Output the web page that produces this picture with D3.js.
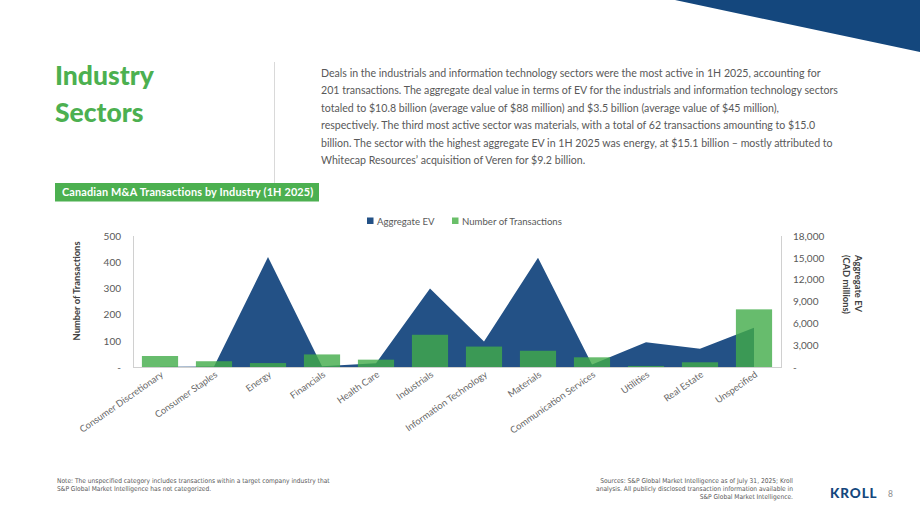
<!DOCTYPE html>
<html>
<head>
<meta charset="utf-8">
<script src="https://cdn.jsdelivr.net/npm/d3@7/dist/d3.min.js"></script>
<style>
  html, body { margin: 0; padding: 0; background: #fff; }
  svg { display: block; font-family: Lato, "Open Sans", sans-serif; }
</style>
</head>
<body>
<svg id="page" width="920" height="518"></svg>
<script>
// ---- data ----
const categories = [
  'Consumer Discretionary', 'Consumer Staples', 'Energy', 'Financials',
  'Health Care', 'Industrials', 'Information Technology', 'Materials',
  'Communication Services', 'Utilities', 'Real Estate', 'Unspecified'
];
const aggregateEV  = [50, 80, 15100, 100, 500, 10800, 3500, 15000, 350, 3400, 2500, 5400]; // CAD millions
const transactions = [42, 22, 15, 48, 28, 123, 78, 62, 37, 4, 18, 220];
const leftTicks  = [0, 100, 200, 300, 400, 500];
const rightTicks = [0, 3000, 6000, 9000, 12000, 15000, 18000];

const paragraph = [
  'Deals in the industrials and information technology sectors were the most active in 1H 2025, accounting for',
  '201 transactions. The aggregate deal value in terms of EV for the industrials and information technology sectors',
  'totaled to $10.8 billion (average value of $88 million) and $3.5 billion (average value of $45 million),',
  'respectively. The third most active sector was materials, with a total of 62 transactions amounting to $15.0',
  'billion. The sector with the highest aggregate EV in 1H 2025 was energy, at $15.1 billion \u2013 mostly attributed to',
  'Whitecap Resources\u2019 acquisition of Veren for $9.2 billion.'
];
const noteLines = [
  'Note: The unspecified category includes transactions within a target company industry that',
  'S&P Global Market Intelligence has not categorized.'
];
const sourceLines = [
  'Sources: S&P Global Market Intelligence as of July 31, 2025; Kroll',
  'analysis. All publicly disclosed transaction information available in',
  'S&P Global Market Intelligence.'
];

const NAVY   = '#235186';
const DKNAVY = '#14477d';
const GREEN  = '#41ab49';
const LGREEN = '#4cb050';
const GREY   = '#595959';

const svg = d3.select('#page');

// corner triangle
svg.append('path')
  .attr('d', 'M675,0 L920,0 L920,52 Z')
  .attr('fill', DKNAVY);

// title
const title = svg.append('text')
  .attr('fill', LGREEN)
  .attr('font-size', 26.5)
  .attr('font-weight', 900);
title.append('tspan').attr('x', 55).attr('y', 85).text('Industry');
title.append('tspan').attr('x', 55).attr('y', 122).text('Sectors');

// divider
svg.append('line')
  .attr('x1', 274.5).attr('x2', 274.5)
  .attr('y1', 62).attr('y2', 183)
  .attr('stroke', '#d9d9d9').attr('stroke-width', 1);

// paragraph
svg.append('g')
  .selectAll('text')
  .data(paragraph)
  .enter().append('text')
  .attr('x', 321)
  .attr('y', (d, i) => 77 + i * 17.4)
  .attr('fill', GREY)
  .attr('font-size', 10.6)
  .text(d => d);

// chart header band
svg.append('rect')
  .attr('x', 55).attr('y', 183)
  .attr('width', 264).attr('height', 18.5)
  .attr('fill', LGREEN);
svg.append('text')
  .attr('x', 62).attr('y', 196)
  .attr('fill', '#fff')
  .attr('font-size', 10.9)
  .attr('font-weight', 700)
  .attr('letter-spacing', 0.15)
  .text('Canadian M&A Transactions by Industry (1H 2025)');

// ---- chart ----
const plot = { left: 133, right: 781, top: 236, bottom: 367 };

const x = d3.scaleBand()
  .domain(categories)
  .range([plot.left, plot.right])
  .paddingInner(0.33)
  .paddingOuter(0.165);

const yLeft = d3.scaleLinear()
  .domain([0, 500])
  .range([plot.bottom, plot.top]);

const yRight = d3.scaleLinear()
  .domain([0, 18000])
  .range([plot.bottom, plot.top]);

const cx = c => x(c) + x.bandwidth() / 2;

// aggregate EV area
const area = d3.area()
  .x((d, i) => cx(categories[i]))
  .y0(yRight(0))
  .y1(d => yRight(d));

svg.append('path')
  .datum(aggregateEV)
  .attr('d', area)
  .attr('fill', NAVY);

// transactions bars
svg.append('g')
  .selectAll('rect')
  .data(transactions)
  .enter().append('rect')
  .attr('x', (d, i) => x(categories[i]))
  .attr('width', x.bandwidth())
  .attr('y', d => yLeft(d))
  .attr('height', d => yLeft(0) - yLeft(d))
  .attr('fill', GREEN)
  .attr('fill-opacity', 0.8);

// axis frame lines
const frame = svg.append('g').attr('stroke', '#d0d0d0').attr('stroke-width', 1);
frame.append('line').attr('x1', plot.left + 0.5).attr('x2', plot.left + 0.5).attr('y1', plot.top).attr('y2', plot.bottom);
frame.append('line').attr('x1', plot.right + 0.5).attr('x2', plot.right + 0.5).attr('y1', plot.top).attr('y2', plot.bottom);
frame.append('line').attr('x1', plot.left).attr('x2', plot.right + 1).attr('y1', plot.bottom + 0.5).attr('y2', plot.bottom + 0.5);

// left axis
const leftAxis = d3.axisLeft(yLeft)
  .tickValues(leftTicks)
  .tickSize(0)
  .tickPadding(12)
  .tickFormat(d => d === 0 ? '-' : d3.format(',')(d));
const gl = svg.append('g').attr('transform', `translate(${plot.left},0)`).call(leftAxis);
gl.select('.domain').remove();
gl.selectAll('text').attr('fill', GREY).attr('font-size', 10).attr('font-family', 'Lato, sans-serif');

// right axis
const rightAxis = d3.axisRight(yRight)
  .tickValues(rightTicks)
  .tickSize(0)
  .tickPadding(12)
  .tickFormat(d => d === 0 ? '-' : d3.format(',')(d));
const gr = svg.append('g').attr('transform', `translate(${plot.right},0)`).call(rightAxis);
gr.select('.domain').remove();
gr.selectAll('text').attr('fill', GREY).attr('font-size', 10).attr('font-family', 'Lato, sans-serif');

// x labels
svg.append('g')
  .selectAll('text')
  .data(categories)
  .enter().append('text')
  .attr('transform', d => `translate(${cx(d) + 4},${plot.bottom + 9}) rotate(-35)`)
  .attr('text-anchor', 'end')
  .attr('fill', '#666')
  .attr('font-size', 9.4)
  .text(d => d);

// axis titles
svg.append('text')
  .attr('transform', 'translate(80,291) rotate(-90)')
  .attr('text-anchor', 'middle')
  .attr('fill', '#404040')
  .attr('font-size', 9.4)
  .attr('font-weight', 700)
  .text('Number of Transactions');

const rt = svg.append('text')
  .attr('transform', 'translate(855,255) rotate(90)')
  .attr('fill', '#404040')
  .attr('font-size', 9.4)
  .attr('font-weight', 700);
rt.append('tspan').attr('x', 0).attr('y', 0).text('Aggregate EV');
rt.append('tspan').attr('x', 0).attr('y', 12).text('(CAD millions)');

// legend
const legendItems = [
  { label: 'Aggregate EV', color: NAVY, x: 367 },
  { label: 'Number of Transactions', color: '#6abf69', x: 452 }
];
const lg = svg.append('g').selectAll('g').data(legendItems).enter().append('g');
lg.append('rect')
  .attr('x', d => d.x).attr('y', 217.5)
  .attr('width', 6.5).attr('height', 6.5)
  .attr('fill', d => d.color);
lg.append('text')
  .attr('x', d => d.x + 10).attr('y', 224.5)
  .attr('fill', GREY)
  .attr('font-size', 9.6)
  .text(d => d.label);

// footnotes
const foot = "'Liberation Sans Narrow', 'DejaVu Sans Condensed', sans-serif";
svg.append('g')
  .selectAll('text')
  .data(noteLines)
  .enter().append('text')
  .attr('x', 57)
  .attr('y', (d, i) => 482.5 + i * 8.2)
  .attr('fill', GREY)
  .attr('font-size', 6.6)
  .attr('font-family', foot)
  .text(d => d);

svg.append('g')
  .selectAll('text')
  .data(sourceLines)
  .enter().append('text')
  .attr('x', 793)
  .attr('y', (d, i) => 482.5 + i * 8.2)
  .attr('text-anchor', 'end')
  .attr('fill', GREY)
  .attr('font-size', 6.6)
  .attr('font-family', foot)
  .text(d => d);

// logo and page number
svg.append('text')
  .attr('x', 830).attr('y', 498)
  .attr('fill', DKNAVY)
  .attr('font-size', 13.5)
  .attr('font-weight', 900)
  .attr('letter-spacing', 0.9)
  .text('KROLL');
svg.append('text')
  .attr('x', 888).attr('y', 497)
  .attr('fill', '#8c8c8c')
  .attr('font-size', 8.5)
  .text('8');
</script>
</body>
</html>
